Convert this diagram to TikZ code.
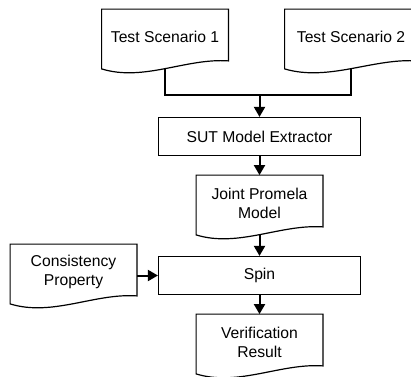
\documentclass[tikz,border=0pt]{standalone}
\usepackage{fontspec}
\setmainfont{Liberation Sans}
\usepackage{tikz}
\usetikzlibrary{arrows.meta,calc}

\begin{document}
\begin{tikzpicture}[x=0.5pt, y=-0.5pt]
      \tikzstyle{doc}=[minimum width=63pt, minimum height=27.5pt, inner sep=1pt, align=center];
      \tikzstyle{proc}=[draw, line width=0.6pt, minimum width=101pt, minimum height=19pt, inner sep=1pt];
      \tikzstyle{flow}=[line width=1pt, -{Triangle[length=5pt, width=5.5pt]}];

      \useasboundingbox (0, 0) rectangle (411, 376);
      \clip (0, 0) rectangle (411, 376);
      \fontsize{7.85}{9.5}\selectfont

      %documents
      \node[doc] (scen1) at (165, 37) {Test Scenario 1};
      \node[doc, minimum width=66pt] (scen2) at (351, 37) {Test Scenario 2};
      \node[doc] (promela) at (259.5, 203) {Joint Promela\\Model};
      \node[doc] (prop) at (73.5, 272) {Consistency\\Property};
      \node[doc] (result) at (259.5, 342) {Verification\\Result};

      %processes
      \node[proc] (extractor) at (259.5, 136.5) {SUT Model Extractor};
      \node[proc] (spin) at (259.5, 275.5) {Spin};

      %wavy bottom of the documents
      \foreach \d in {scen1, scen2, promela, prop, result}
         \draw[line width=0.6pt] (\d.north west) -- (\d.north east) -- ([yshift=2pt]\d.south east)
            .. controls ($(\d.south west)!0.667!(\d.south east)+(0,3.5pt)$)
            and ($(\d.south west)!0.333!(\d.south east)+(0,-8.5pt)$) .. ([yshift=-2pt]\d.south west)
            -- cycle;

      \coordinate (merge) at (259.5, 95);
      \draw[line width=1pt] ([yshift=-2pt]scen1.south) |- (merge) -| ([yshift=-2pt]scen2.south);
      \draw[flow] (merge) -- (extractor);
      \draw[flow] (extractor) -- (promela.north);
      \draw[flow] ([yshift=-2pt]promela.south) -- (spin);
      \draw[flow] (spin.west -| prop.east) -- (spin);
      \draw[flow] (spin) -- (result.north);

\end{tikzpicture}
\end{document}
